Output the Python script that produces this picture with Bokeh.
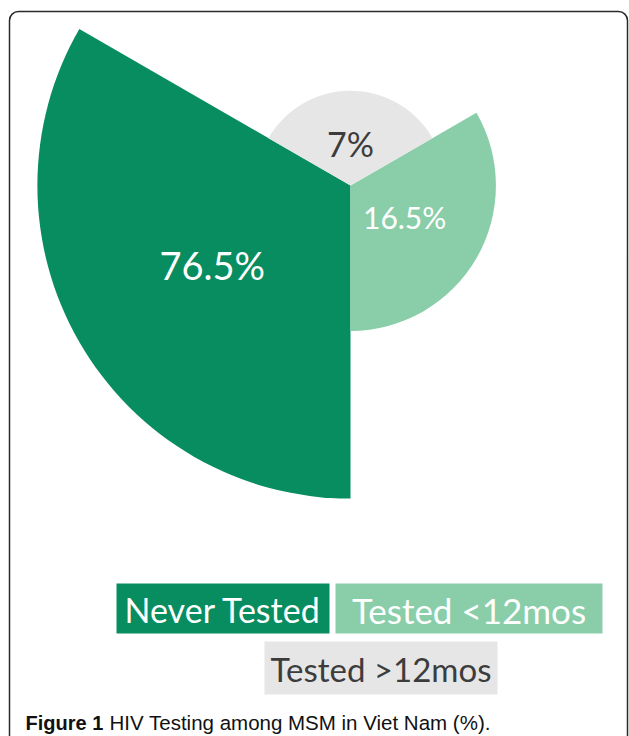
import math
from bokeh.plotting import figure
from bokeh.models import Range1d, BoxAnnotation
from bokeh.core.properties import value
from bokeh.embed import file_html
from bokeh.resources import INLINE

# ---- data ----
categories = ["Never Tested", "Tested <12mos", "Tested >12mos"]
values = [76.5, 16.5, 7.0]
value_labels = ["76.5%", "16.5%", "7%"]
caption_bold = "Figure 1"
caption_rest = "HIV Testing among MSM in Viet Nam (%)."

# ---- styles ----
colors = ["#078d5f", "#89cea9", "#e6e6e6"]
label_colors = ["white", "white", "#3c3c3c"]
legend_text_colors = ["white", "white", "#3c3c3c"]
label_sizes = ["38px", "30px", "34px"]
label_frac = [0.51, 0.43, 0.44]
FONT = "Lato"

W, H = 629, 736
p = figure(width=W, height=H, output_backend="svg", toolbar_location=None,
           x_range=Range1d(0, W), y_range=Range1d(0, H), min_border=0)
p.axis.visible = False
p.grid.visible = False
p.outline_line_color = None
p.background_fill_color = "white"
p.border_fill_color = "white"

# rounded frame
p.add_layout(BoxAnnotation(left=9, right=627, top=725, bottom=-40,
                           fill_alpha=0, line_color="#2a2a2a", line_alpha=1.0,
                           line_width=1.5, border_radius=9))

# polar area chart: equal angles, radius ~ sqrt(value)
cx, cy = 350, 551
k = 35.8
n = len(values)
step = 2 * math.pi / n
start0 = math.radians(150)
starts = [start0 + i * step for i in range(n)]
ends = [s + step for s in starts]
radii = [k * math.sqrt(v) for v in values]

p.wedge(x=[cx] * n, y=[cy] * n, radius=radii, start_angle=starts, end_angle=ends,
        fill_color=colors, line_color=None)

for i in range(n):
    mid = (starts[i] + ends[i]) / 2
    r = radii[i] * label_frac[i]
    p.text(x=[cx + r * math.cos(mid)], y=[cy + r * math.sin(mid)], text=[value_labels[i]],
           text_align="center", text_baseline="middle", text_color=label_colors[i],
           text_font=value(FONT), text_font_size=label_sizes[i])

# legend boxes
boxes = [(116, 329, 153, 103), (335, 602, 153, 103), (264, 497, 95, 42)]
legend_sizes = ["34px", "35px", "33px"]
for i, (l, rr, t, b) in enumerate(boxes):
    p.quad(left=[l], right=[rr], top=[t], bottom=[b], fill_color=colors[i], line_color=None)
    p.text(x=[(l + rr) / 2], y=[(t + b) / 2 - 1], text=[categories[i]],
           text_align="center", text_baseline="middle", text_color=legend_text_colors[i],
           text_font=value(FONT), text_font_size=legend_sizes[i])

# caption
p.text(x=[25], y=[14], text=[caption_bold], text_font=value("Liberation Sans"),
       text_font_style="bold", text_font_size="20px", text_color="#111111",
       text_baseline="alphabetic")
p.text(x=[109], y=[14], text=[caption_rest], text_font=value("Liberation Sans"),
       text_font_size="20.5px", text_color="#111111", text_baseline="alphabetic")

open("out.html", "w").write(file_html(p, INLINE))
